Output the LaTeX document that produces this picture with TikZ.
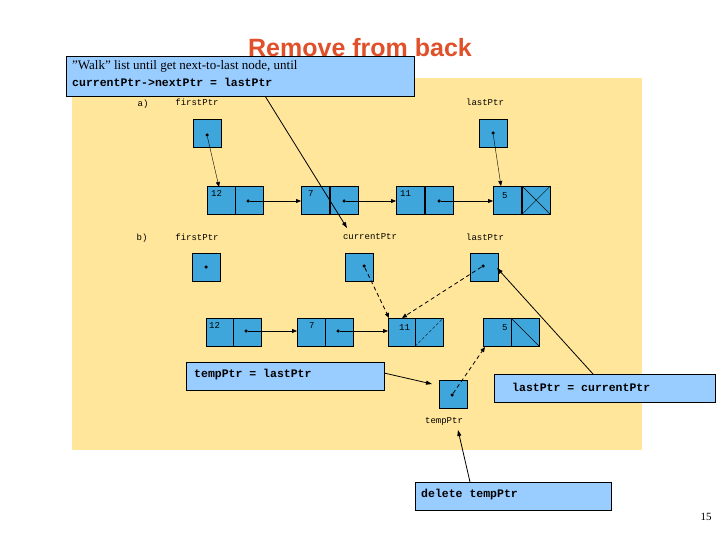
\documentclass[tikz,border=0pt]{standalone}
\usepackage{fontspec}
\setsansfont{Liberation Sans}
\setmonofont{Liberation Mono}
\setmainfont{Liberation Serif}
\usetikzlibrary{arrows.meta}
\definecolor{bg}{HTML}{FFE69A}
\definecolor{cell}{HTML}{3EA6DA}
\definecolor{call}{HTML}{99CCFF}
\definecolor{ttl}{HTML}{E0502A}
\tikzset{
 cellbox/.style={draw=black,fill=cell,minimum width=28pt,minimum height=28pt,inner sep=0pt,anchor=north west},
 lbl/.style={font=\ttfamily\fontsize{9}{10}\selectfont,inner sep=0pt},
 dat/.style={font=\ttfamily\fontsize{9}{10}\selectfont,inner sep=0pt,anchor=north west},
 callout/.style={draw=black,fill=call,inner sep=0pt,anchor=north west},
 ptr/.style={-{Triangle[length=5pt,width=4pt]},thin},
 dptr/.style={-{Triangle[length=5pt,width=4pt]},thick,dash pattern=on 4pt off 3pt},
 cl/.style={-{Triangle[length=6pt,width=4pt]},thick},
 dot/.style={circle,fill=black,inner sep=0pt,minimum size=3.5pt}
}
\begin{document}
\begin{tikzpicture}[x=1pt,y=-1pt]
\useasboundingbox (0,0) rectangle (720,540);
\fill[bg] (72,78) rectangle (642,450);
\node[font=\sffamily\bfseries\fontsize{25}{28}\selectfont,text=ttl] (title) at (360,48) {Remove from back};
% callout 1
\node[callout,minimum width=348pt,minimum height=40pt] (c1) at (66,56) {};
\node[anchor=west,font=\fontsize{13}{14}\selectfont,inner sep=0pt] (c1a) at (72,66) {"Walk" list until get next-to-last node, until};
\node[anchor=west,font=\ttfamily\bfseries\fontsize{11.5}{13}\selectfont,inner sep=0pt] (c1b) at (72,82) {currentPtr->nextPtr = lastPtr};
% a)
\node[lbl] (la) at (143,104) {a)};
\node[lbl] (lfa) at (197,102) {firstPtr};
\node[lbl] (lla) at (485,102) {lastPtr};
\node[cellbox] (fa) at (193,119) {};
\node[cellbox] (la2) at (479,119) {};
\node[cellbox] (a1d) at (207,186) {}; \node[cellbox] (a1p) at (235,186) {};
\node[cellbox] (a2d) at (301,186) {}; \node[cellbox] (a2p) at (330,186) {};
\node[cellbox] (a3d) at (396,186) {}; \node[cellbox] (a3p) at (425,186) {};
\node[cellbox] (a4d) at (493,186) {}; \node[cellbox] (a4p) at (522,186) {};
\draw (a4p.north west) -- (a4p.south east) (a4p.south west) -- (a4p.north east);
\node[dat] (t1) at (211,190) {12}; \node[dat] (t2) at (308,190) {7};
\node[dat] (t3) at (400,190) {11}; \node[dat] (t4) at (502,192) {5};
\node[dot] (dfa) at (207,135) {}; \node[dot] (dla) at (493,133) {};
\node[dot] (d1) at (248,201) {}; \node[dot] (d2) at (344,201) {}; \node[dot] (d3) at (439,201) {};
\coordinate (e1) at (219,187); \coordinate (e2) at (501,186);
\draw[ptr] (dfa) -- (e1); \draw[ptr] (dla) -- (e2);
\draw[ptr] (d1) -- (a2d.west|-d1); \draw[ptr] (d2) -- (a3d.west|-d2); \draw[ptr] (d3) -- (a4d.west|-d3);
% b)
\node[lbl] (lb) at (142,238) {b)};
\node[lbl] (lfb) at (197,237) {firstPtr};
\node[lbl] (lcb) at (370,237) {currentPtr};
\node[lbl] (llb) at (485,237) {lastPtr};
\node[cellbox] (fb) at (192,253) {};
\node[cellbox] (cb) at (345,253) {};
\node[cellbox] (lb2) at (470,253) {};
\node[cellbox] (b1d) at (206,318) {}; \node[cellbox] (b1p) at (233,318) {};
\node[cellbox] (b2d) at (297,318) {}; \node[cellbox] (b2p) at (325,318) {};
\node[cellbox] (b3d) at (388,318) {}; \node[cellbox] (b3p) at (415,318) {};
\node[cellbox] (b4d) at (483,318) {}; \node[cellbox] (b4p) at (511,318) {};
\draw[thin,dash pattern=on 3pt off 2pt] (b3p.south west) -- (b3p.north east);
\draw (b4p.north west) -- (b4p.south east);
\node[dat] (u1) at (209,322) {12}; \node[dat] (u2) at (309,322) {7};
\node[dat] (u3) at (399,324) {11}; \node[dat] (u4) at (502,324) {5};
\node[dot] (dfb) at (206,267) {}; \node[dot] (dcb) at (364,266) {}; \node[dot] (dlb) at (483,266) {};
\node[dot] (b1) at (246,331) {}; \node[dot] (b2) at (338,331) {};
\draw[ptr] (b1) -- (b2d.west|-b1); \draw[ptr] (b2) -- (b3d.west|-b2);
\coordinate (f1) at (389,318); \coordinate (f2) at (402,318);
\draw[dptr] (dcb) -- (f1); \draw[dptr] (dlb) -- (f2);
% temp
\node[cellbox] (tp) at (439,380) {};
\node[dot] (dtp) at (452,395) {};
\node[lbl] (ltp) at (444,421) {tempPtr};
\coordinate (f3) at (485,347);
\draw[dptr] (dtp) -- (f3);
% callouts
\node[callout,minimum width=198pt,minimum height=28pt] (c2) at (186,362) {};
\node[anchor=west,font=\ttfamily\bfseries\fontsize{11.5}{13}\selectfont,inner sep=0pt] (c2t) at (194,375) {tempPtr = lastPtr};
\node[callout,minimum width=221pt,minimum height=28pt] (c3) at (494,374) {};
\node[anchor=west,font=\ttfamily\bfseries\fontsize{11.5}{13}\selectfont,inner sep=0pt] (c3t) at (512,387) {lastPtr = currentPtr};
\node[callout,minimum width=196pt,minimum height=28pt] (c4) at (415,482) {};
\node[anchor=west,font=\ttfamily\bfseries\fontsize{11.5}{13}\selectfont,inner sep=0pt] (c4t) at (421,495) {delete tempPtr};
\coordinate (s1) at (265,96); \coordinate (g1) at (347,228);
\draw[cl] (s1) -- (g1);
\coordinate (s2) at (384,373); \coordinate (g2) at (432,384);
\draw[cl] (s2) -- (g2);
\coordinate (s3) at (593,374); \coordinate (g3) at (497,268);
\draw[cl] (s3) -- (g3);
\coordinate (s4) at (470,482); \coordinate (g4) at (458,430);
\draw[cl] (s4) -- (g4);
\node[font=\fontsize{11}{12}\selectfont] (pg) at (706,517) {15};
\end{tikzpicture}
\end{document}
